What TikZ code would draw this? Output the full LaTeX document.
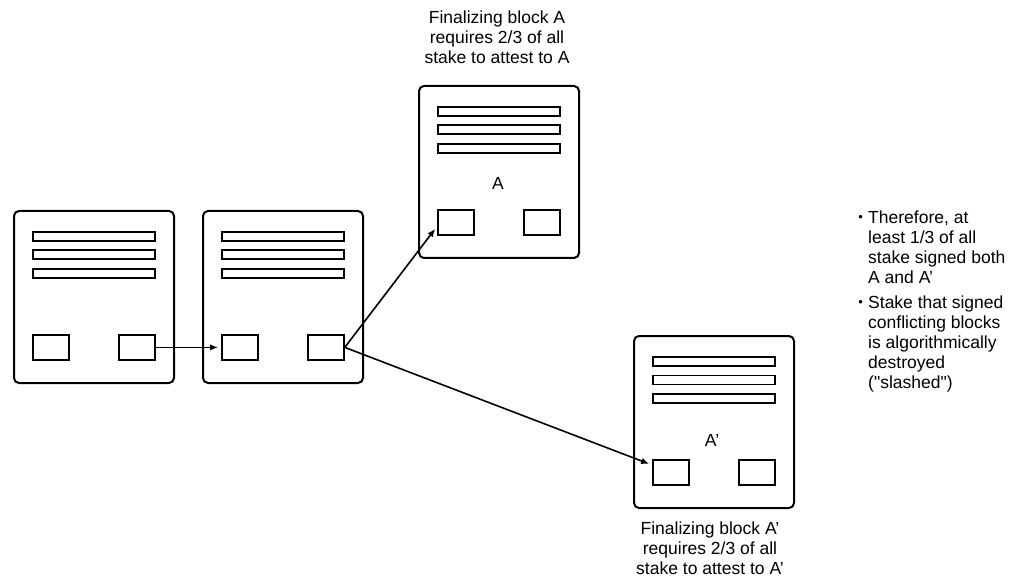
\documentclass[tikz,border=0pt]{standalone}
\usepackage{fontspec}
\setmainfont{Liberation Sans}
\font\plainq="Liberation Sans" at 17.5pt
\usetikzlibrary{arrows.meta}
\tikzset{
  frame/.style={draw, line width=2pt, rounded corners=5pt, minimum width=160pt, minimum height=172pt, inner sep=0pt, anchor=north west},
  bar/.style={draw, line width=1.8pt, minimum width=122pt, minimum height=9pt, inner sep=0pt, anchor=north west},
  sq/.style={draw, line width=1.8pt, minimum width=36pt, minimum height=25pt, inner sep=0pt, anchor=north west},
  txt/.style={font=\fontsize{17.5}{20}\selectfont, align=center, inner sep=0pt},
  btxt/.style={font=\fontsize{17.5}{20}\selectfont, align=left, inner sep=0pt, anchor=north west},
  bul/.style={font=\fontsize{17.5}{20}\selectfont, inner sep=0pt, anchor=north east},
  arr/.style={line width=1.6pt, -{Latex[length=8pt,width=6.5pt]}, shorten >=3pt},
  pics/block/.style={code={
    \node[frame] (-frame) at (0,0) {};
    \node[bar] (-b1) at (19,21) {};
    \node[bar] (-b2) at (19,39.5) {};
    \node[bar] (-b3) at (19,58) {};
    \node[sq] (-lsq) at (19,124) {};
    \node[sq] (-rsq) at (105,124) {};
  }}
}
\newcommand{\smallbullet}{\strut\raisebox{1.5pt}{\fontsize{13}{13}\selectfont •}}
\begin{document}
\begin{tikzpicture}[x=1pt, y=-1pt]
  \useasboundingbox (0,0) rectangle (1014,585);
  \pic (b1) at (13,210) {block};
  \pic (b2) at (202,210) {block};
  \pic (bA) at (418,85) {block};
  \pic (bAp) at (633,335) {block};
  \node[txt] (labA) at (498,183) {A};
  \node[txt] (labAp) at (712,440) {A’};
  \node[txt] (topnote) at (497,37) {Finalizing block A\\requires 2/3 of all\\stake to attest to A};
  \node[txt] (botnote) at (710,548) {Finalizing block A’\\requires 2/3 of all\\stake to attest to A’};
  \draw[arr] (b1-rsq.east) -- (b2-lsq.west);
  \draw[arr] (b2-rsq.east) -- ([yshift=-4pt]bA-lsq.west);
  \draw[arr] (b2-rsq.east) -- ([yshift=-6pt]bAp-lsq.north west);
  \node[btxt] (t1) at (868,209) {\strut Therefore, at\\least 1/3 of all\\stake signed both\\A and A’};
  \node[bul] (bul1) at (863,209) {\smallbullet};
  \node[btxt] (t2) at (868,294) {\strut Stake that signed\\conflicting blocks\\is algorithmically\\destroyed\\({\plainq "}slashed{\plainq "})};
  \node[bul] (bul2) at (863,294) {\smallbullet};
\end{tikzpicture}
\end{document}
